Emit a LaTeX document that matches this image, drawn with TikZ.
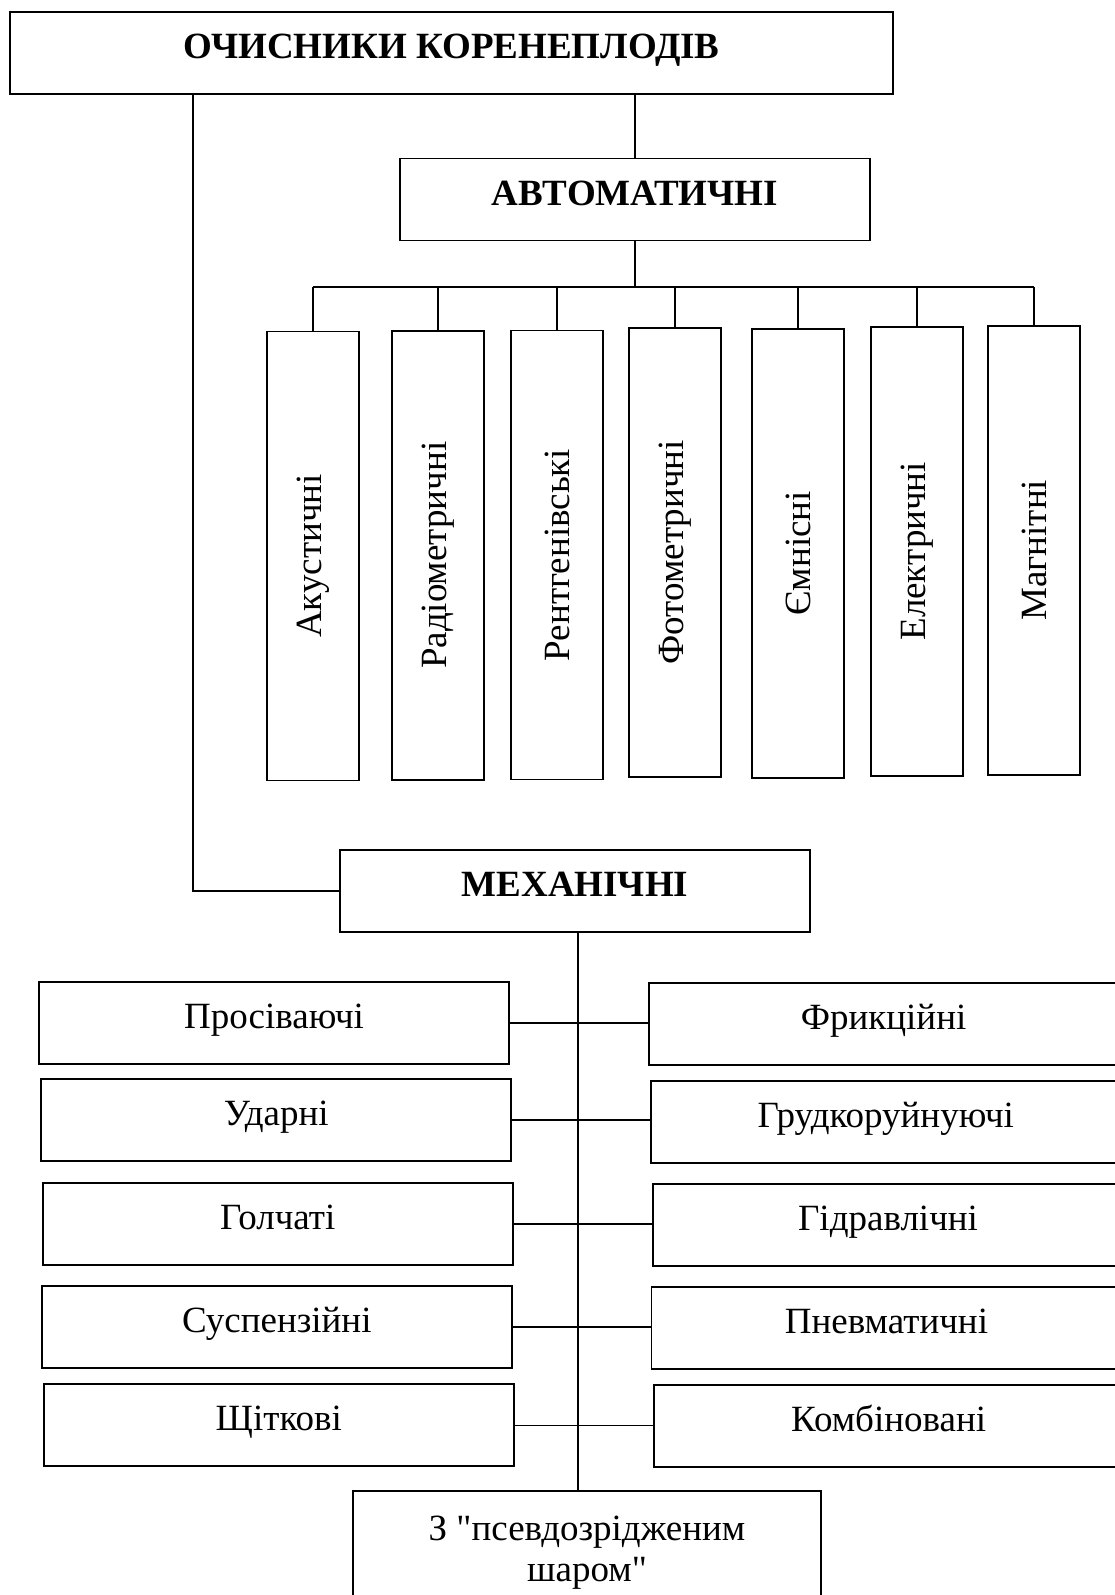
\documentclass[tikz,border=0pt]{standalone}
\usepackage{fontspec}
\setmainfont{Liberation Serif}[Ligatures=TeXOff]
\begin{document}
\begin{tikzpicture}[x=1pt,y=-1pt,
  box/.style={draw, line width=1.8pt, inner sep=0pt, font=\fontsize{37}{44}\selectfont,
    text height=25pt, text depth=14pt, minimum width=470pt, minimum height=82pt},
  vbox/.style={draw, line width=1.8pt, inner sep=0pt, font=\fontsize{37}{44}\selectfont,
    minimum width=92pt, minimum height=449pt},
  conn/.style={line width=1.5pt}]
\useasboundingbox (0,0) rectangle (1114,1595);

% top level
\node[box, font=\fontsize{37}{44}\selectfont\bfseries, minimum width=883pt] (top) at (451.5,53) {ОЧИСНИКИ КОРЕНЕПЛОДІВ};
\node[box, font=\fontsize{37}{44}\selectfont\bfseries] (auto) at (635,199.5) {АВТОМАТИЧНІ};
\node[box, font=\fontsize{37}{44}\selectfont\bfseries] (mech) at (575,891) {МЕХАНІЧНІ};

% automatic kinds
\node[vbox] (v1) at (313,556) {\rotatebox{90}{Акустичні}};
\node[vbox] (v2) at (438,555.3) {\rotatebox{90}{Радіометричні}};
\node[vbox] (v3) at (557,555) {\rotatebox{90}{Рентгенівські}};
\node[vbox] (v4) at (675,552.3) {\rotatebox{90}{Фотометричні}};
\node[vbox] (v5) at (798,553.3) {\rotatebox{90}{Ємнісні}};
\node[vbox] (v6) at (917,551.3) {\rotatebox{90}{Електричні}};
\node[vbox] (v7) at (1034,550.3) {\rotatebox{90}{Магнітні}};

% mechanical kinds, left
\node[box] (l1) at (274,1023) {Просіваючі};
\node[box] (l2) at (276.3,1120.2) {Ударні};
\node[box] (l3) at (277.8,1223.8) {Голчаті};
\node[box] (l4) at (276.8,1327.2) {Суспензійні};
\node[box] (l5) at (278.8,1425.3) {Щіткові};
% mechanical kinds, right
\node[box] (r1) at (883.6,1024.3) {Фрикційні};
\node[box] (r2) at (885.7,1121.7) {Грудкоруйнуючі};
\node[box] (r3) at (888,1225) {Гідравлічні};
\node[box] (r4) at (886.5,1328) {Пневматичні};
\node[box] (r5) at (888.6,1426.3) {Комбіновані};
% bottom
\node[draw, line width=1.8pt, inner sep=0pt, minimum width=468pt, minimum height=124pt,
  align=center, font=\fontsize{37}{41}\selectfont] (ps) at (587,1553) {З "псевдозрідженим\\шаром"};

% connectors
\coordinate (lx) at (193,0);
\coordinate (bus) at (634,287);
\coordinate (sp) at (578,0);
\draw[conn] (top.south -| lx) |- (mech.west);
\draw[conn] (top.south -| auto.north) -- (auto.north);
\draw[conn] (auto.south) -- (auto.south |- bus);
\draw[conn] (v1.north |- bus) -- (v7.north |- bus);
\foreach \v in {v1,v2,v3,v4,v5,v6,v7}{\draw[conn] (\v.north) -- (\v.north |- bus);}
\draw[conn] (mech.south -| sp) -- (ps.north -| sp);
\foreach \i in {1,...,5}{\draw[conn] (l\i.east) -- (l\i.east -| r\i.west);}
\end{tikzpicture}
\end{document}
